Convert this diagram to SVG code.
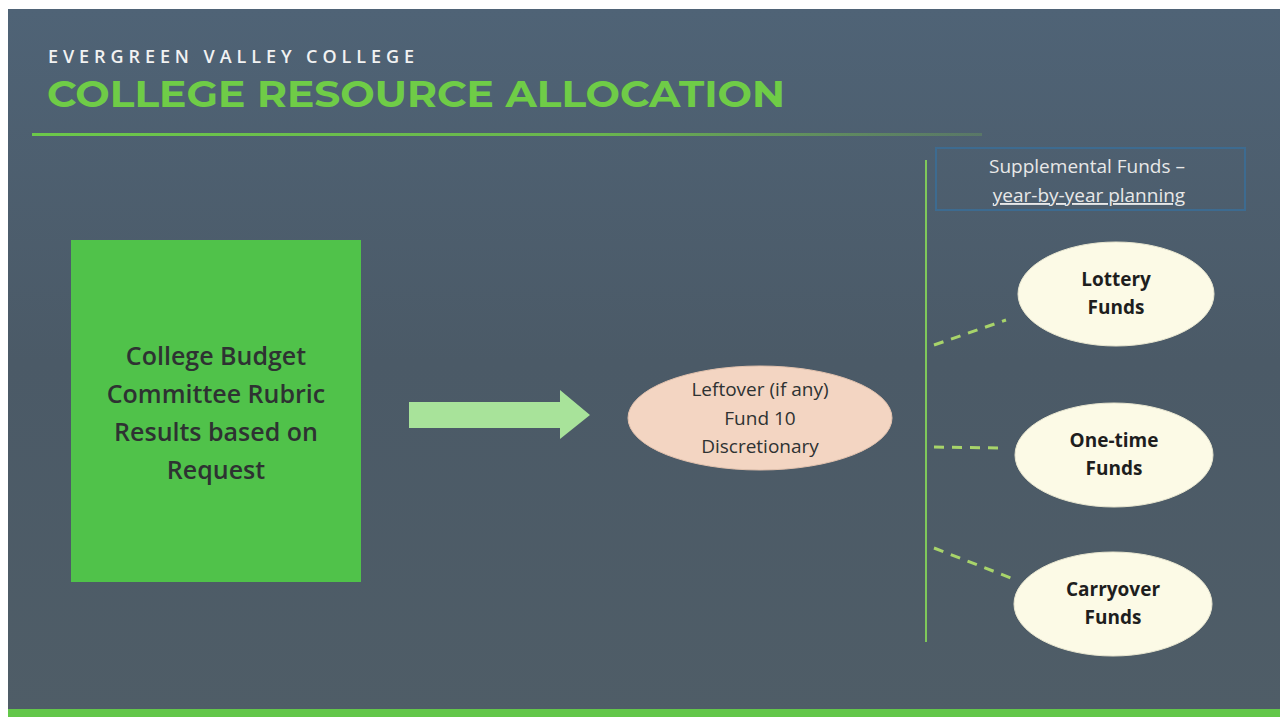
<svg xmlns="http://www.w3.org/2000/svg" width="1280" height="717" viewBox="0 0 1280 717">
<defs>
<linearGradient id="bg" x1="0" y1="0" x2="0" y2="1">
<stop offset="0" stop-color="#4f6376"/>
<stop offset="0.5" stop-color="#4b5a67"/>
<stop offset="1" stop-color="#4f5d67"/>
</linearGradient>
<linearGradient id="hl" x1="0" y1="0" x2="1" y2="0">
<stop offset="0" stop-color="#6cc84a"/>
<stop offset="0.6" stop-color="#6ab54e"/>
<stop offset="1" stop-color="#6a9a5a" stop-opacity="0.4"/>
</linearGradient>
<style>
.dark{font-family:"Open Sans",Lato,sans-serif;fill:#2e3232;text-anchor:middle}
.ovl{fill:#fcfae6;stroke:#e8e6d0;stroke-width:1}
.fund{font-family:"Open Sans",Lato,sans-serif;font-weight:bold;font-size:19px;fill:#1e1e1e;text-anchor:middle}
.dash{stroke:#a8d46a;stroke-width:3;stroke-dasharray:10 8;fill:none}
</style>
</defs>
<rect x="0" y="0" width="1280" height="717" fill="#ffffff"/>
<rect x="8" y="9" width="1272" height="708" fill="url(#bg)"/>
<rect x="8" y="709" width="1272" height="8" fill="#63c74a"/>

<g id="header">
<text x="48" y="63" font-family="'Open Sans',sans-serif" font-size="18" font-weight="600" letter-spacing="3" fill="#f2f2f2" textLength="369" lengthAdjust="spacing">EVERGREEN VALLEY COLLEGE</text>
<text x="47" y="107" font-family="Montserrat,'Open Sans',sans-serif" font-size="37" font-weight="bold" fill="#6fcc47" textLength="738" lengthAdjust="spacingAndGlyphs">COLLEGE RESOURCE ALLOCATION</text>
<rect x="32" y="133" width="950" height="3" fill="url(#hl)"/>
</g>

<g id="rubric">
<rect x="71" y="240" width="290" height="342" fill="#50c24a"/>
<text class="dark" font-size="25" font-weight="600"><tspan x="216" y="365">College Budget</tspan><tspan x="216" y="403">Committee Rubric</tspan><tspan x="216" y="441">Results based on</tspan><tspan x="216" y="479">Request</tspan></text>
</g>

<g id="connectors">
<polygon points="409,402 560,402 560,390 590,415 560,439 560,428 409,428" fill="#a8e39a"/>
<line x1="926" y1="160" x2="926" y2="642" stroke="#7fc85a" stroke-width="2"/>
<line class="dash" x1="934" y1="345" x2="1006" y2="320"/>
<line class="dash" x1="934" y1="447" x2="1006" y2="448"/>
<line class="dash" x1="934" y1="548" x2="1016" y2="580"/>
</g>

<g id="leftover">
<ellipse cx="760" cy="418" rx="132" ry="52" fill="#f3d5c2" stroke="#e2c2ae"/>
<text class="dark" font-size="19"><tspan x="760" y="396">Leftover (if any)</tspan><tspan x="760" y="425">Fund 10</tspan><tspan x="760" y="453">Discretionary</tspan></text>
</g>

<g id="supplemental">
<rect x="936" y="148" width="309" height="62" fill="none" stroke="#3d6b90" stroke-width="2"/>
<text font-family="'Open Sans',sans-serif" font-size="19" fill="#e8e8e8" text-anchor="middle"><tspan x="1087" y="173">Supplemental Funds –</tspan><tspan x="1089" y="202" text-decoration="underline">year-by-year planning</tspan></text>
</g>

<g id="lottery">
<ellipse class="ovl" cx="1116" cy="294" rx="98" ry="52"/>
<text class="fund"><tspan x="1116" y="286">Lottery</tspan><tspan x="1116" y="314">Funds</tspan></text>
</g>

<g id="onetime">
<ellipse class="ovl" cx="1114" cy="455" rx="99" ry="52"/>
<text class="fund"><tspan x="1114" y="447">One-time</tspan><tspan x="1114" y="475">Funds</tspan></text>
</g>

<g id="carryover">
<ellipse class="ovl" cx="1113" cy="604" rx="99" ry="52"/>
<text class="fund"><tspan x="1113" y="596">Carryover</tspan><tspan x="1113" y="624">Funds</tspan></text>
</g>
</svg>
